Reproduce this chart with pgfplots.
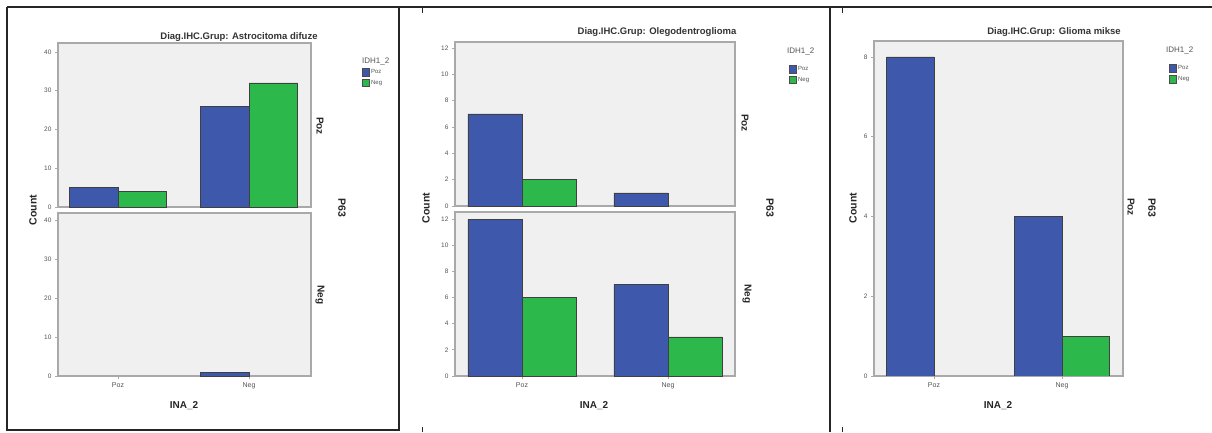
\documentclass[border=0pt]{standalone}
\usepackage{pgfplots}
\pgfplotsset{compat=1.18}
\usepackage{fontspec}
\setmainfont{Liberation Sans}
\definecolor{spblue}{HTML}{3E58AC}
\definecolor{spgreen}{HTML}{2DB84B}
\definecolor{spbg}{HTML}{F0F0F0}
\definecolor{spframe}{HTML}{A9A9A9}
\definecolor{sptext}{HTML}{555555}
\pgfplotsset{
  spss/.style={
    scale only axis,
    anchor=north west,
    axis background/.style={fill=spbg},
    axis line style={draw=spframe, line width=1.3pt},
    ytick pos=left, xtick pos=bottom,
    tick align=outside,
    major tick length=3pt,
    tick style={draw=spframe, line width=0.8pt},
    /pgf/number format/assume math mode=true,
    yticklabel style={font=\fontsize{6.5}{7}\selectfont, text=sptext},
    xticklabel style={font=\fontsize{7}{8}\selectfont, text=sptext},
    xtick={0,1}, xticklabels={Poz,Neg},
    ymin=0,
    legend image code/.code={\draw[#1, draw=black!70, line width=0.4pt] (0pt,-3.8pt) rectangle (6.5pt,3.8pt);},
    legend style={draw=none, fill=none, inner sep=0pt, font=\fontsize{6}{7}\selectfont, text=sptext, row sep=1.2pt},
    legend cell align=left,
  },
  upper/.style={xtick=\empty},
  bluebar/.style={ybar, fill=spblue, draw=black!75, line width=0.5pt, bar width=0.37, bar shift=-0.185},
  greenbar/.style={ybar, fill=spgreen, draw=black!75, line width=0.5pt, bar width=0.37, bar shift=0.185},
}
\begin{document}
\begin{tikzpicture}[x=1pt,y=1pt]
\path[use as bounding box, fill=white] (0pt,0pt) rectangle (1212pt,432pt);
% frames
\draw[line width=1.2pt, black!85] (7,425) -- (1212,425);
\draw[line width=1.2pt, black!85] (7,425) -- (7,2) -- (399,2) -- (399,425);
\draw[line width=1.2pt, black!85] (830,425) -- (830,0);
\draw[line width=1pt, black!85] (422,425) -- (422,419) (422,0) -- (422,5) (842,425) -- (842,419) (842,0) -- (842,5);

% ---------- Panel 1 ----------
\begin{axis}[spss, upper, at={(58pt,389pt)}, width=253pt, height=164pt,
  xmin=-0.458, xmax=1.473, ymax=42.3, ytick={0,10,20,30,40},
  legend style={at={(1.2016,0.854)}, anchor=north west}]
\addplot[bluebar] coordinates {(0,5) (1,26)};
\addlegendentry{Poz}
\addplot[greenbar] coordinates {(0,4) (1,32)};
\addlegendentry{Neg}
\end{axis}
\begin{axis}[spss, at={(58pt,219pt)}, width=253pt, height=163pt,
  xmin=-0.458, xmax=1.473, ymax=41.8, ytick={0,10,20,30,40}]
\addplot[bluebar] coordinates {(1,1)};
\end{axis}
\node[font=\fontsize{9.5}{11}\selectfont\bfseries, text=black!80] at (239pt,395pt) {Diag.IHC.Grup: Astrocitoma difuze};
\node[font=\fontsize{8}{9}\selectfont, text=sptext, anchor=west, inner sep=0pt] at (362pt,370pt) {IDH1\_2};
\node[font=\fontsize{10.5}{12}\selectfont\bfseries, text=black!85, rotate=90] at (33pt,222pt) {Count};
\node[font=\fontsize{10}{12}\selectfont\bfseries, text=black!85] at (184pt,26pt) {INA\_2};
\node[font=\fontsize{10}{12}\selectfont\bfseries, text=black!85, rotate=-90] at (320pt,306pt) {Poz};
\node[font=\fontsize{10}{12}\selectfont\bfseries, text=black!85, rotate=-90] at (320pt,137pt) {Neg};
\node[font=\fontsize{10.5}{12}\selectfont\bfseries, text=black!85, rotate=-90] at (342pt,224pt) {P63};

% ---------- Panel 2 ----------
\begin{axis}[spss, upper, at={(455pt,390pt)}, width=280pt, height=164pt,
  xmin=-0.459, xmax=1.459, ymax=12.45, ytick={0,2,...,12},
  legend style={at={(1.193,0.866)}, anchor=north west}]
\addplot[bluebar] coordinates {(0,7) (1,1)};
\addlegendentry{Poz}
\addplot[greenbar] coordinates {(0,2)};
\addlegendentry{Neg}
\end{axis}
\begin{axis}[spss, at={(455pt,220pt)}, width=280pt, height=164pt,
  xmin=-0.459, xmax=1.459, ymax=12.54, ytick={0,2,...,12}]
\addplot[bluebar] coordinates {(0,12) (1,7)};
\addplot[greenbar] coordinates {(0,6) (1,3)};
\end{axis}
\node[font=\fontsize{9.5}{11}\selectfont\bfseries, text=black!80] at (657pt,400pt) {Diag.IHC.Grup: Olegodentroglioma};
\node[font=\fontsize{8}{9}\selectfont, text=sptext, anchor=west, inner sep=0pt] at (787pt,380pt) {IDH1\_2};
\node[font=\fontsize{10.5}{12}\selectfont\bfseries, text=black!85, rotate=90] at (426pt,224pt) {Count};
\node[font=\fontsize{10}{12}\selectfont\bfseries, text=black!85] at (594pt,26pt) {INA\_2};
\node[font=\fontsize{10}{12}\selectfont\bfseries, text=black!85, rotate=-90] at (745pt,309pt) {Poz};
\node[font=\fontsize{10}{12}\selectfont\bfseries, text=black!85, rotate=-90] at (747pt,138pt) {Neg};
\node[font=\fontsize{10.5}{12}\selectfont\bfseries, text=black!85, rotate=-90] at (770pt,224pt) {P63};

% ---------- Panel 3 ----------
\begin{axis}[spss, at={(874pt,391pt)}, width=249pt, height=335pt,
  xmin=-0.469, xmax=1.477, ymax=8.4, ytick={0,2,4,6,8},
  legend style={at={(1.185,0.934)}, anchor=north west}]
\addplot[bluebar] coordinates {(0,8) (1,4)};
\addlegendentry{Poz}
\addplot[greenbar] coordinates {(1,1)};
\addlegendentry{Neg}
\end{axis}
\node[font=\fontsize{9.5}{11}\selectfont\bfseries, text=black!80] at (1054pt,400pt) {Diag.IHC.Grup: Glioma mikse};
\node[font=\fontsize{8}{9}\selectfont, text=sptext, anchor=west, inner sep=0pt] at (1166pt,381pt) {IDH1\_2};
\node[font=\fontsize{10.5}{12}\selectfont\bfseries, text=black!85, rotate=90] at (853pt,224pt) {Count};
\node[font=\fontsize{10}{12}\selectfont\bfseries, text=black!85] at (998pt,26pt) {INA\_2};
\node[font=\fontsize{10}{12}\selectfont\bfseries, text=black!85, rotate=-90] at (1131pt,225pt) {Poz};
\node[font=\fontsize{10.5}{12}\selectfont\bfseries, text=black!85, rotate=-90] at (1152pt,224pt) {P63};
\end{tikzpicture}
\end{document}
